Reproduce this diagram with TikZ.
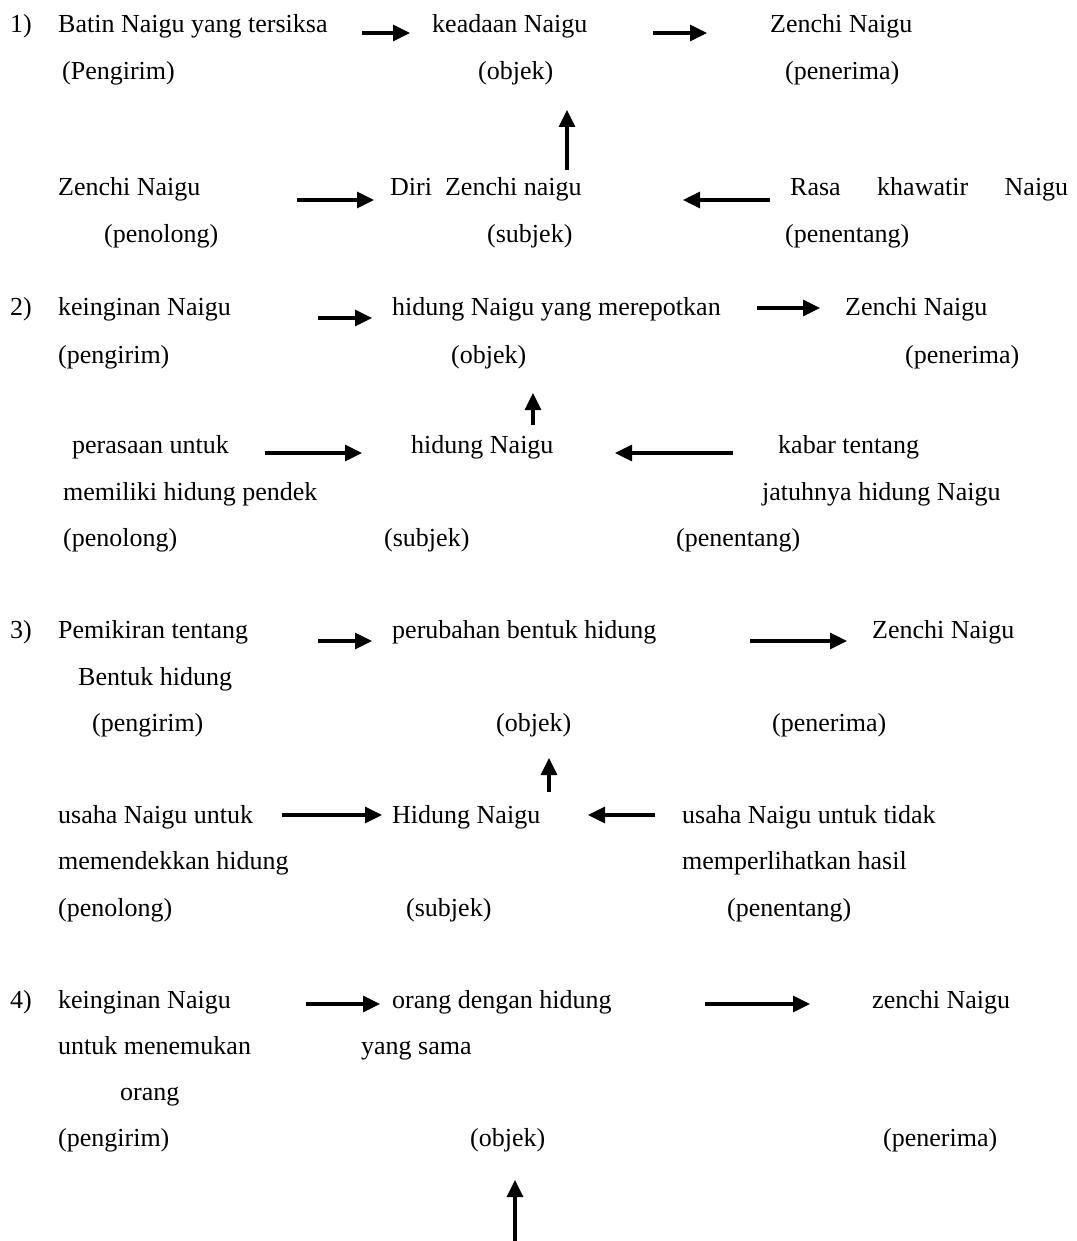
\documentclass[tikz,border=0pt]{standalone}
\usepackage{fontspec}
\setmainfont{Liberation Serif}
\usetikzlibrary{arrows.meta}
\begin{document}
\begin{tikzpicture}[x=1pt,y=-1pt,
  txt/.style={anchor=base west,inner sep=0pt,font=\fontsize{26}{31}\selectfont},
  arr/.style={line width=3.2pt,-{Triangle[length=17pt,width=16pt]}}]
\useasboundingbox (0,0) rectangle (1076,1241);
% ---------- 1 ----------
\node[txt] (n1) at (10,33) {1)};
\node[txt] (a1) at (58,33) {Batin Naigu yang tersiksa};
\node[txt] (o1) at (432,33) {keadaan Naigu};
\node[txt] (r1) at (770,33) {Zenchi Naigu};
\node[txt] (a1l) at (62,80) {(Pengirim)};
\node[txt] (o1l) at (478,80) {(objek)};
\node[txt] (r1l) at (785,80) {(penerima)};
\node[txt] (h1) at (58,196) {Zenchi Naigu};
\node[txt] (s1) at (390,196) {Diri\ \ Zenchi naigu};
\node[txt] (p1) at (790,196) {\makebox[278pt][s]{Rasa\hfill khawatir\hfill Naigu}};
\node[txt] (h1l) at (104,243) {(penolong)};
\node[txt] (s1l) at (487,243) {(subjek)};
\node[txt] (p1l) at (785,243) {(penentang)};
\coordinate (c1a) at (362,33); \coordinate (c1b) at (410,33);
\coordinate (c1c) at (653,33); \coordinate (c1d) at (707,33);
\coordinate (c1e) at (567,170); \coordinate (c1f) at (567,110);
\coordinate (c1g) at (297,200); \coordinate (c1h) at (374,200);
\coordinate (c1i) at (770,200); \coordinate (c1j) at (683,200);
\draw[arr] (c1a) -- (c1b);
\draw[arr] (c1c) -- (c1d);
\draw[arr] (c1e) -- (c1f);
\draw[arr] (c1g) -- (c1h);
\draw[arr] (c1i) -- (c1j);
% ---------- 2 ----------
\node[txt] (n2) at (10,315) {2)};
\node[txt] (a2) at (58,315) {keinginan Naigu};
\node[txt] (o2) at (392,315) {hidung Naigu yang merepotkan};
\node[txt] (r2) at (845,315) {Zenchi Naigu};
\node[txt] (a2l) at (58,363) {(pengirim)};
\node[txt] (o2l) at (451,363) {(objek)};
\node[txt] (r2l) at (905,363) {(penerima)};
\node[txt] (h2) at (72,453) {perasaan untuk};
\node[txt] (s2) at (411,453) {hidung Naigu};
\node[txt] (p2) at (778,453) {kabar tentang};
\node[txt] (h2b) at (63,500) {memiliki hidung pendek};
\node[txt] (p2b) at (762,500) {jatuhnya hidung Naigu};
\node[txt] (h2l) at (63,546) {(penolong)};
\node[txt] (s2l) at (384,546) {(subjek)};
\node[txt] (p2l) at (676,546) {(penentang)};
\coordinate (c2a) at (318,318); \coordinate (c2b) at (372,318);
\coordinate (c2c) at (757,308); \coordinate (c2d) at (820,308);
\coordinate (c2e) at (533,425); \coordinate (c2f) at (533,393);
\coordinate (c2g) at (265,453); \coordinate (c2h) at (362,453);
\coordinate (c2i) at (733,453); \coordinate (c2j) at (615,453);
\draw[arr] (c2a) -- (c2b);
\draw[arr] (c2c) -- (c2d);
\draw[arr] (c2e) -- (c2f);
\draw[arr] (c2g) -- (c2h);
\draw[arr] (c2i) -- (c2j);
% ---------- 3 ----------
\node[txt] (n3) at (10,638) {3)};
\node[txt] (a3) at (58,638) {Pemikiran tentang};
\node[txt] (o3) at (392,638) {perubahan bentuk hidung};
\node[txt] (r3) at (872,638) {Zenchi Naigu};
\node[txt] (a3b) at (78,685) {Bentuk hidung};
\node[txt] (a3l) at (92,731) {(pengirim)};
\node[txt] (o3l) at (496,731) {(objek)};
\node[txt] (r3l) at (772,731) {(penerima)};
\node[txt] (h3) at (58,823) {usaha Naigu untuk};
\node[txt] (s3) at (392,823) {Hidung Naigu};
\node[txt] (p3) at (682,823) {usaha Naigu untuk tidak};
\node[txt] (h3b) at (58,869) {memendekkan hidung};
\node[txt] (p3b) at (682,869) {memperlihatkan hasil};
\node[txt] (h3l) at (58,916) {(penolong)};
\node[txt] (s3l) at (406,916) {(subjek)};
\node[txt] (p3l) at (727,916) {(penentang)};
\coordinate (c3a) at (318,641); \coordinate (c3b) at (372,641);
\coordinate (c3c) at (750,641); \coordinate (c3d) at (847,641);
\coordinate (c3e) at (549,792); \coordinate (c3f) at (549,758);
\coordinate (c3g) at (282,815); \coordinate (c3h) at (382,815);
\coordinate (c3i) at (655,815); \coordinate (c3j) at (588,815);
\draw[arr] (c3a) -- (c3b);
\draw[arr] (c3c) -- (c3d);
\draw[arr] (c3e) -- (c3f);
\draw[arr] (c3g) -- (c3h);
\draw[arr] (c3i) -- (c3j);
% ---------- 4 ----------
\node[txt] (n4) at (10,1008) {4)};
\node[txt] (a4) at (58,1008) {keinginan Naigu};
\node[txt] (o4) at (392,1008) {orang dengan hidung};
\node[txt] (r4) at (872,1008) {zenchi Naigu};
\node[txt] (a4b) at (58,1054) {untuk menemukan};
\node[txt] (o4b) at (361,1054) {yang sama};
\node[txt] (a4c) at (120,1100) {orang};
\node[txt] (a4l) at (58,1146) {(pengirim)};
\node[txt] (o4l) at (470,1146) {(objek)};
\node[txt] (r4l) at (883,1146) {(penerima)};
\coordinate (c4a) at (306,1004); \coordinate (c4b) at (380,1004);
\coordinate (c4c) at (705,1004); \coordinate (c4d) at (810,1004);
\coordinate (c4e) at (515,1241); \coordinate (c4f) at (515,1180);
\draw[arr] (c4a) -- (c4b);
\draw[arr] (c4c) -- (c4d);
\draw[arr] (c4e) -- (c4f);
\end{tikzpicture}
\end{document}
